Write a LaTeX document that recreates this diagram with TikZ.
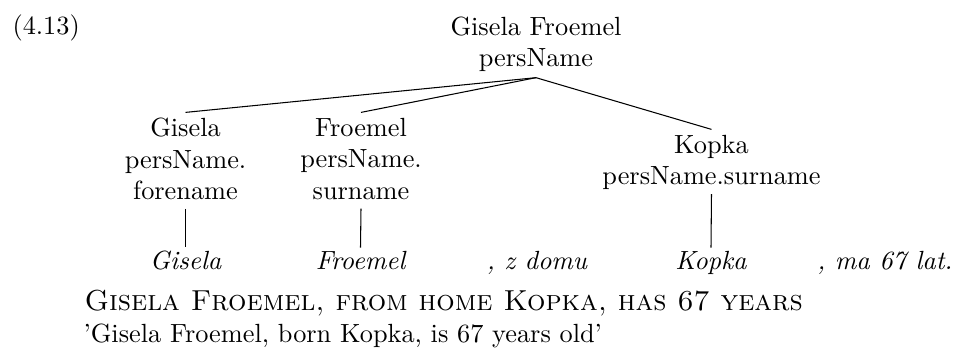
\documentclass[tikz,border=0pt]{standalone}
\begin{document}
\begin{tikzpicture}[x=0.3802pt,y=-0.3802pt,
  tnode/.style={align=center,anchor=north,inner sep=2pt,text depth=1.25pt},
  leaf/.style={anchor=base,inner xsep=2pt,inner ysep=1.4pt,font=\itshape},
  plain/.style={inner sep=0pt,anchor=base west},
  edge/.style={line width=0.4pt}]
\useasboundingbox (0,0) rectangle (955,351);
\node[plain] (num) at (12,35) {(4.13)};
\node[tnode,text depth=1.94pt] (root) at (536,10.9) {Gisela Froemel\\persName};
\node[tnode] (g) at (185.5,112.4) {Gisela\\persName.\\forename};
\node[tnode] (f) at (361,112.4) {Froemel\\persName.\\surname};
\node[tnode] (k) at (711.5,129.4) {Kopka\\persName.surname};
\node[leaf] (wg) at (185.5,270) {Gisela};
\node[leaf] (wf) at (360.5,270) {Froemel};
\node[leaf] (wz) at (537,270) {, z domu};
\node[leaf] (wk) at (711,270) {Kopka};
\node[leaf] (wm) at (885,270) {, ma 67 lat.};
\draw[edge] (root.south) -- (g.north);
\draw[edge] (root.south) -- (f.north);
\draw[edge] (root.south) -- (k.north);
\draw[edge] (g.south) -- (wg.north);
\draw[edge] (f.south) -- (wf.north);
\draw[edge] (k.south) -- (wk.north);
\node[plain,font=\fontsize{11}{13}\selectfont] (gloss) at (84,311) {\textsc{Gisela Froemel, from home Kopka, has 67 years}};
\node[plain] (trans) at (83,343) {'Gisela Froemel, born Kopka, is 67 years old'};
\end{tikzpicture}
\end{document}
